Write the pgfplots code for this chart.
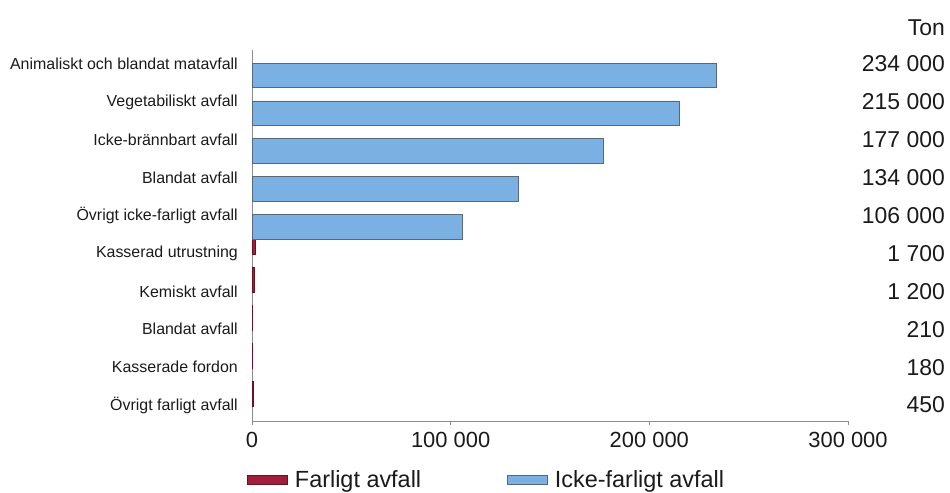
\documentclass[border=0pt]{standalone}
\usepackage{pgfplots}
\pgfplotsset{compat=1.18}
\usepackage{fontspec}
\setmainfont{Liberation Sans}

\definecolor{farlig}{HTML}{A01E3C}
\definecolor{farligedge}{HTML}{6A1222}
\definecolor{ickefarlig}{HTML}{7AB0E2}
\definecolor{ickeedge}{HTML}{56697C}
\definecolor{axisgray}{HTML}{8C8C8C}
\definecolor{txt}{HTML}{1A1A1A}

% Farligt avfall (hazardous waste), tons; category index 0 = top row
\pgfplotstableread{
idx ton
5 1700
6 1200
7 210
8 180
9 450
}\farligt
% Icke-farligt avfall (non-hazardous waste), tons
\pgfplotstableread{
idx ton
0 234000
1 215000
2 177000
3 134000
4 106000
}\ickefarligt

\begin{document}
\begin{tikzpicture}[x=1bp,y=1bp]
\path[use as bounding box] (0,0) rectangle (950,-493);

\pgfplotsset{
  wastegeom/.style={
    scale only axis,
    width=596bp, height=371bp,
    at={(252bp,-421bp)}, anchor=south west,
    xmin=0, xmax=300000,
    ymin=-0.37, ymax=9.42,
    y dir=reverse,
  }
}

\begin{axis}[
  wastegeom,
  xbar, bar width=0.65,
  axis x line*=bottom, axis y line*=left,
  axis line style={axisgray, line width=0.9pt},
  xtick={0,100000,200000,300000},
  xticklabels={0,100 000,200 000,300 000},
  scaled x ticks=false,
  x tick style={axisgray, line width=0.7pt},
  tick align=outside, major tick length=4bp,
  xticklabel style={font=\fontsize{22}{24}\selectfont, text=txt, yshift=-4bp},
  ytick={0,...,9},
  yticklabels={Animaliskt och blandat matavfall, Vegetabiliskt avfall,
    Icke-brännbart avfall, Blandat avfall, Övrigt icke-farligt avfall,
    Kasserad utrustning, Kemiskt avfall, Blandat avfall, Kasserade fordon,
    Övrigt farligt avfall},
  y tick style={draw=none},
  yticklabel style={font=\fontsize{16}{18}\selectfont, text=txt, inner sep=0pt, xshift=-10bp},
  legend columns=2,
  legend style={draw=none, fill=none, at={(rel axis cs:-0.0084,-0.128)}, anchor=north west,
    font=\fontsize{23.5}{25}\selectfont, text=txt, inner sep=0pt,
    /tikz/every odd column/.append style={column sep=5bp},
    /tikz/every even column/.append style={column sep=84bp}},
  legend image code/.code={\draw[#1, line width=0.8pt] (0bp,-4.5bp) rectangle (40bp,4.5bp);},
  clip=false,
]
\addplot[fill=farlig, draw=farligedge, line width=0.6pt] table[x=ton, y=idx] {\farligt};
\addplot[fill=ickefarlig, draw=ickeedge, line width=0.8pt] table[x=ton, y=idx] {\ickefarligt};
\legend{Farligt avfall, Icke-farligt avfall}
\end{axis}

% Right-hand column with the stated tonnages
\begin{axis}[
  wastegeom,
  hide x axis, axis y line*=right,
  y axis line style={draw=none},
  ytick={0,...,9},
  yticklabels={234 000,215 000,177 000,134 000,106 000,1 700,1 200,210,180,450},
  y tick style={draw=none},
  yticklabel style={font=\fontsize{23}{25}\selectfont, text=txt, anchor=east, inner sep=0pt, xshift=97bp},
]
\addplot[draw=none] coordinates {(0,0)};
\end{axis}

\node[anchor=east, inner sep=0pt, font=\fontsize{23}{25}\selectfont, text=txt] at (945,-28) {Ton};
\end{tikzpicture}
\end{document}
